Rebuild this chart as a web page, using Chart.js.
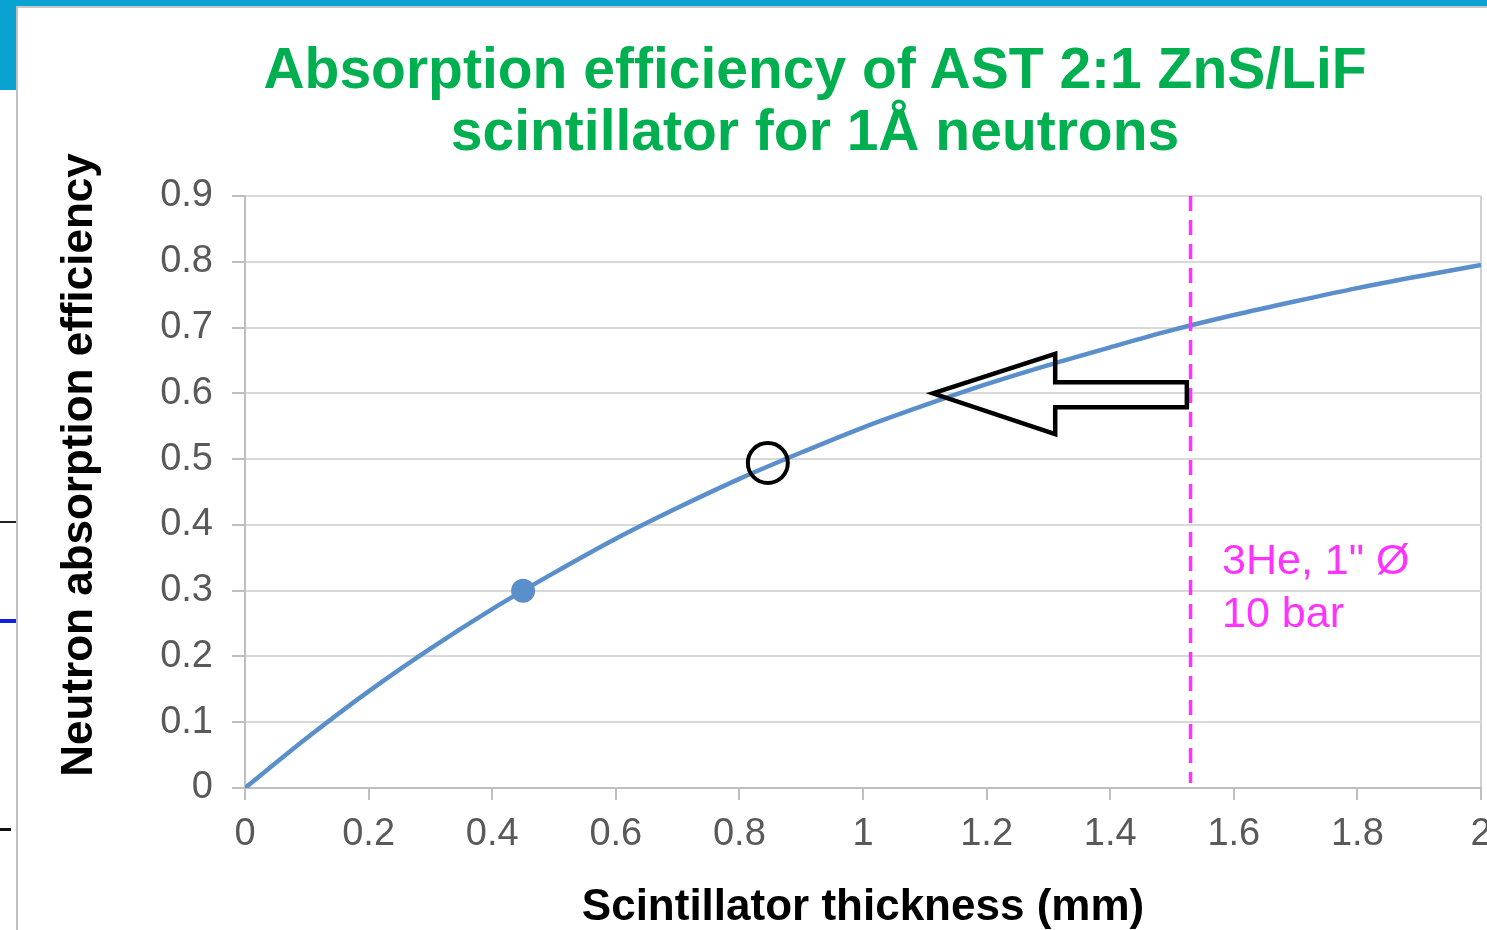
<!DOCTYPE html>
<html lang="en">
<head>
<meta charset="UTF-8">
<title>Absorption efficiency of AST 2:1 ZnS/LiF scintillator</title>
<script src="https://cdn.jsdelivr.net/npm/chart.js"></script>
<style>
  body { margin: 0; width: 1487px; height: 930px; overflow: hidden; background: #fff; position: relative;
         font-family: "Liberation Sans", Arial, sans-serif; }
  .deco { position: absolute; }
  #title { position: absolute; left: 215px; top: 37px; width: 1200px; text-align: center; color: #00b050;
           font-weight: bold; font-size: 57px; line-height: 62px; }
  canvas { position: absolute; left: 0; top: 0; }
</style>
</head>
<body>
  <!-- slide frame bits around the chart -->
  <div class="deco" style="left:0;top:0;width:1487px;height:6px;background:#0aa2d0"></div>
  <div class="deco" style="left:0;top:0;width:16px;height:90px;background:#0aa2d0"></div>
  <div class="deco" style="left:16px;top:6px;width:1471px;height:2px;background:#c8c8c8"></div>
  <div class="deco" style="left:16px;top:6px;width:2px;height:924px;background:#c0c0c0"></div>
  <div class="deco" style="left:0;top:521px;width:16px;height:2px;background:#222"></div>
  <div class="deco" style="left:0;top:619px;width:16px;height:4px;background:#1020e0"></div>
  <div class="deco" style="left:0;top:828px;width:11px;height:3px;background:#111"></div>

  <div id="title">Absorption efficiency of AST 2:1 ZnS/LiF<br>scintillator for 1Å neutrons</div>
  <!-- canvas runs past the right edge so the last "2" tick label gets clipped like the original -->
  <canvas id="effChart" width="1505" height="930"></canvas>

<script>
// curve
const thickness = [0, 0.1, 0.2, 0.3, 0.4, 0.5, 0.6, 0.7, 0.8, 0.9, 1.0,
                   1.1, 1.2, 1.3, 1.4, 1.5, 1.6, 1.7, 1.8, 1.9, 2.0];
const efficiency = [0, 0.076, 0.147, 0.212, 0.272, 0.327, 0.379, 0.426, 0.470, 0.510, 0.548,
                    0.582, 0.614, 0.643, 0.670, 0.696, 0.719, 0.740, 0.760, 0.778, 0.795];

const markedPoint = [0.45, 0.30];     // filled blue dot
const circledPoint = [0.846, 0.494];  // open black ring

// 3He tube reference
const heThickness = 1.53;
const heLabel = ['3He, 1" Ø', '10 bar'];
const heLabelX = 1.581;
const heLabelY = [0.326, 0.245];

// arrow outline, in axis units
const arrowX = [1.113, 1.311, 1.524];               // tip, head back, tail
const arrowY = [0.600, 0.660, 0.538, 0.617, 0.579]; // tip, head top, head bottom, shaft top, shaft bottom

const xTicks = [0, 0.2, 0.4, 0.6, 0.8, 1, 1.2, 1.4, 1.6, 1.8, 2];
const xTickLabels = ['0', '0.2', '0.4', '0.6', '0.8', '1', '1.2', '1.4', '1.6', '1.8', '2'];
const yTicks = [0, 0.1, 0.2, 0.3, 0.4, 0.5, 0.6, 0.7, 0.8, 0.9];
const yTickLabels = ['0', '0.1', '0.2', '0.3', '0.4', '0.5', '0.6', '0.7', '0.8', '0.9'];

const xTitle = 'Scintillator thickness (mm)';
const yTitle = 'Neutron absorption efficiency';

Chart.defaults.font.family = '"Liberation Sans", Arial, sans-serif';

const overlay = {
    id: 'overlay',
    afterDatasetsDraw(chart) {
        const { ctx, chartArea, scales: { x, y } } = chart;
        const px = v => x.getPixelForValue(v);
        const py = v => y.getPixelForValue(v);
        ctx.save();

        // dashed 3He line + label
        ctx.strokeStyle = '#ff33ff';
        ctx.lineWidth = 3.5;
        ctx.setLineDash([15, 9]);
        ctx.beginPath();
        ctx.moveTo(px(heThickness), chartArea.top);
        ctx.lineTo(px(heThickness), chartArea.bottom - 5);
        ctx.stroke();
        ctx.setLineDash([]);
        ctx.fillStyle = '#ff33ff';
        ctx.font = '43px "Liberation Sans", Arial, sans-serif';
        ctx.textAlign = 'left';
        ctx.textBaseline = 'alphabetic';
        heLabel.forEach((t, i) => ctx.fillText(t, px(heLabelX), py(heLabelY[i])));

        // arrow
        ctx.beginPath();
        ctx.moveTo(px(arrowX[0]), py(arrowY[0]));
        ctx.lineTo(px(arrowX[1]), py(arrowY[1]));
        ctx.lineTo(px(arrowX[1]), py(arrowY[3]));
        ctx.lineTo(px(arrowX[2]), py(arrowY[3]));
        ctx.lineTo(px(arrowX[2]), py(arrowY[4]));
        ctx.lineTo(px(arrowX[1]), py(arrowY[4]));
        ctx.lineTo(px(arrowX[1]), py(arrowY[2]));
        ctx.closePath();
        ctx.strokeStyle = '#000';
        ctx.lineWidth = 4.5;
        ctx.lineJoin = 'miter';
        ctx.stroke();

        // y axis title (sits a bit above the plot centre in the original)
        ctx.translate(chartArea.left - 165, (chartArea.top + chartArea.bottom) / 2 - 27);
        ctx.rotate(-Math.PI / 2);
        ctx.fillStyle = '#000';
        ctx.font = 'bold 44px "Liberation Sans", Arial, sans-serif';
        ctx.textAlign = 'center';
        ctx.textBaseline = 'middle';
        ctx.fillText(yTitle, 0, 0);
        ctx.restore();
    }
};

new Chart(document.getElementById('effChart'), {
    type: 'scatter',
    data: {
        datasets: [{
            data: thickness.map((t, i) => ({ x: t, y: efficiency[i] })),
            showLine: true,
            borderColor: '#5a8fcb',
            borderWidth: 4.5,
            pointRadius: 0,
            cubicInterpolationMode: 'monotone',
            order: 2
        }, {
            data: [{ x: markedPoint[0], y: markedPoint[1] }],
            pointRadius: 12,
            backgroundColor: '#5a8fcb',
            borderColor: '#5a8fcb',
            borderWidth: 0,
            order: 1
        }, {
            data: [{ x: circledPoint[0], y: circledPoint[1] }],
            pointRadius: 20,
            backgroundColor: 'transparent',
            borderColor: '#000',
            borderWidth: 4,
            order: 0
        }]
    },
    options: {
        responsive: false,
        animation: false,
        events: [],
        layout: { padding: { left: 20, right: 6, top: 196, bottom: 0 } },
        plugins: { legend: { display: false }, tooltip: { enabled: false } },
        scales: {
            x: {
                type: 'linear', min: 0, max: 2,
                afterBuildTicks: s => { s.ticks = xTicks.map(v => ({ value: v })); },
                afterFit: s => { s.height = 142; },
                border: { color: '#bfbfbf', width: 2 },
                grid: {
                    color: c => (c.tick && c.tick.value === 2 ? '#d0d0d0' : 'transparent'),
                    tickColor: '#bfbfbf', tickLength: 12, lineWidth: 2
                },
                ticks: {
                    callback: (v, i) => xTickLabels[i],
                    color: '#595959', font: { size: 38 }, padding: 12, maxRotation: 0, autoSkip: false
                },
                title: {
                    display: true, text: xTitle, color: '#000',
                    font: { size: 44, weight: 'bold', lineHeight: 0.9 }, padding: { top: 0, bottom: 2 }
                }
            },
            y: {
                min: 0, max: 0.9,
                afterBuildTicks: s => { s.ticks = yTicks.map(v => ({ value: v })); },
                afterFit: s => { s.width = 225; },
                border: { color: '#bfbfbf', width: 2 },
                grid: { color: '#d9d9d9', tickColor: '#bfbfbf', tickLength: 13, lineWidth: 2 },
                ticks: {
                    callback: (v, i) => yTickLabels[i],
                    color: '#595959', font: { size: 38 }, padding: 19, autoSkip: false
                }
            }
        }
    },
    plugins: [overlay]
});
</script>
</body>
</html>
